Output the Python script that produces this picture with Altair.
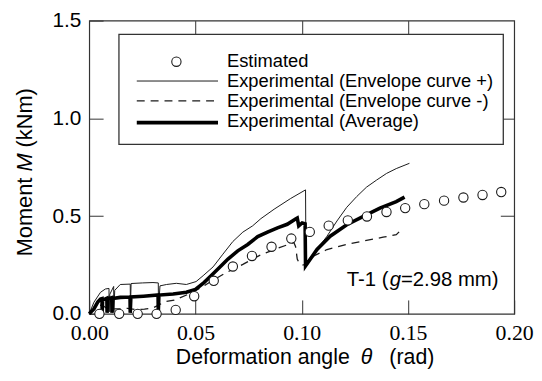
import altair as alt
import pandas as pd

# ---------------- data ----------------
theta_est = [0.0048, 0.0141, 0.0228, 0.0317, 0.0407, 0.0494, 0.0586, 0.0676, 0.0766, 0.0858, 0.0951,
             0.1038, 0.1127, 0.1217, 0.1307, 0.1399, 0.1487, 0.1577, 0.1670, 0.1761, 0.1851, 0.1939]
m_est = [0.0, 0.0, 0.0, 0.0, 0.02, 0.09, 0.169, 0.242, 0.296, 0.343, 0.385,
         0.419, 0.451, 0.478, 0.498, 0.521, 0.541, 0.561, 0.579, 0.595, 0.608, 0.623]

theta_pos = [0.0000, 0.0022, 0.0053, 0.0076, 0.0093, 0.0094, 0.0097, 0.0115, 0.0116, 0.0120, 0.0146,
             0.0193, 0.0194, 0.0197, 0.0250, 0.0300, 0.0325, 0.0326, 0.0333, 0.0364, 0.0410, 0.0457,
             0.0503, 0.0536, 0.0583, 0.0629, 0.0676, 0.0723, 0.0769, 0.0808, 0.0870, 0.0948, 0.1018,
             0.1020, 0.1072, 0.1119, 0.1166, 0.1212, 0.1259, 0.1305, 0.1352, 0.1399, 0.1445, 0.1507]
m_pos = [0.000, 0.059, 0.110, 0.127, 0.130, 0.010, 0.100, 0.140, 0.010, 0.120, 0.150,
         0.152, 0.035, 0.155, 0.158, 0.160, 0.158, 0.025, 0.143, 0.150, 0.156, 0.150,
         0.165, 0.195, 0.240, 0.305, 0.370, 0.418, 0.450, 0.487, 0.535, 0.590, 0.634,
         0.262, 0.329, 0.397, 0.475, 0.545, 0.600, 0.648, 0.684, 0.718, 0.743, 0.770]

theta_neg = [0.000, 0.002, 0.004, 0.006, 0.008, 0.010, 0.014, 0.018, 0.022, 0.026, 0.030, 0.0357,
             0.040, 0.0466, 0.0528, 0.0580, 0.0645, 0.0723, 0.0800, 0.0886, 0.0963, 0.0971, 0.0979,
             0.0990, 0.1005, 0.1020, 0.1057, 0.1119, 0.1212, 0.1290, 0.1383, 0.1445, 0.1461, 0.1470]
m_neg = [0.000, 0.020, 0.040, 0.045, 0.030, 0.025, 0.025, 0.028, 0.022, 0.024, 0.030, 0.062,
         0.070, 0.100, 0.135, 0.170, 0.211, 0.253, 0.298, 0.335, 0.365, 0.345, 0.280,
         0.255, 0.250, 0.250, 0.296, 0.329, 0.355, 0.372, 0.392, 0.405, 0.422, 0.430]

theta_avg = [0.0000, 0.0022, 0.0040, 0.0053, 0.0060, 0.0061, 0.0063, 0.0083, 0.0084, 0.0086, 0.0106,
             0.0107, 0.0110, 0.0146, 0.0192, 0.0193, 0.0196, 0.0255, 0.0324, 0.0325, 0.0328, 0.0395,
             0.0457, 0.0500, 0.0540, 0.0583, 0.0620, 0.0653, 0.0699, 0.0746, 0.0793, 0.0839, 0.0886,
             0.0932, 0.0971, 0.0979, 0.0986, 0.1002, 0.1016, 0.1018, 0.1072, 0.1134, 0.1212, 0.1290,
             0.1368, 0.1445, 0.1484]
m_avg = [0.000, 0.025, 0.060, 0.076, 0.078, 0.005, 0.070, 0.080, 0.005, 0.075, 0.082,
         0.005, 0.078, 0.084, 0.086, 0.005, 0.086, 0.090, 0.096, 0.005, 0.096, 0.101,
         0.110, 0.125, 0.160, 0.205, 0.245, 0.280, 0.322, 0.355, 0.395, 0.418, 0.440,
         0.458, 0.485, 0.490, 0.450, 0.465, 0.460, 0.245, 0.329, 0.397, 0.456, 0.498,
         0.541, 0.574, 0.597]

x_ticks = [0.0, 0.05, 0.10, 0.15, 0.20]
x_inner_ticks = [0.05, 0.10, 0.15]
y_ticks = [0.0, 0.5, 1.0, 1.5]
y_inner_ticks = [0.5, 1.0]
legend_labels = ["Estimated", "Experimental (Envelope curve +)",
                 "Experimental (Envelope curve -)", "Experimental (Average)"]


def frame(t, m):
    return pd.DataFrame({"theta": t, "M": m, "i": list(range(len(t)))})


df_est = frame(theta_est, m_est)
df_pos = frame(theta_pos, m_pos)
df_neg = frame(theta_neg, m_neg)
df_avg = frame(theta_avg, m_avg)
one = pd.DataFrame({"k": [0]})

INK = "#1a1a1a"
SANS = "Liberation Sans"
SERIF = "Liberation Serif, Times New Roman, serif"
XS = alt.Scale(domain=[0, 0.2], nice=False, zero=False)
YS = alt.Scale(domain=[0, 1.5], nice=False)
TICK = alt.ExprRef(expr="-14")

ax_bottom = alt.Axis(orient="bottom", values=x_ticks, format=".2f", title=None, domain=False,
                     grid=False, tickSize=TICK, tickColor="#333", tickWidth=1,
                     labelFont=SERIF, labelFontSize=22, labelColor="black",
                     labelPadding=23, labelFlush=False, labelOverlap=False)
ax_left = alt.Axis(orient="left", values=y_ticks, format=".1f", title=None, domain=False,
                   grid=False, tickSize=TICK, tickColor="#333", tickWidth=1,
                   labelFont=SANS, labelFontSize=21, labelColor="black",
                   labelPadding=22.5, labelFlush=False, labelOverlap=False)
ax_top = alt.Axis(orient="top", values=x_inner_ticks, labels=False, title=None, domain=False,
                  grid=False, tickSize=TICK, tickColor="#333", tickWidth=1)
ax_right = alt.Axis(orient="right", values=y_inner_ticks, labels=False, title=None, domain=False,
                    grid=False, tickSize=TICK, tickColor="#333", tickWidth=1)

thin = alt.Chart(df_pos).mark_line(color=INK, strokeWidth=1.0).encode(
    x=alt.X("theta:Q", scale=XS, axis=ax_bottom),
    y=alt.Y("M:Q", scale=YS, axis=ax_left),
    order=alt.Order("i:Q"),
)
dashed = alt.Chart(df_neg).mark_line(color=INK, strokeWidth=1.3, strokeDash=[8, 6]).encode(
    x=alt.X("theta:Q", scale=XS, axis=None),
    y=alt.Y("M:Q", scale=YS, axis=None),
    order=alt.Order("i:Q"),
)
thick = alt.Chart(df_avg).mark_line(color="black", strokeWidth=3.6).encode(
    x=alt.X("theta:Q", scale=XS, axis=None),
    y=alt.Y("M:Q", scale=YS, axis=None),
    order=alt.Order("i:Q"),
)
circles = alt.Chart(df_est).mark_point(shape="circle", filled=True, fill="white", stroke=INK,
                                       strokeWidth=1.1, size=88, opacity=1).encode(
    x=alt.X("theta:Q", scale=XS, axis=ax_top),
    y=alt.Y("M:Q", scale=YS, axis=ax_right),
)


def txt(s, x, y, size, align="left", style="normal", angle=0, font=SANS):
    return alt.Chart(one).mark_text(text=s, font=font, fontSize=size, fontStyle=style,
                                    align=align, baseline="alphabetic", angle=angle,
                                    color="black").encode(x=alt.value(x), y=alt.value(y))


# legend (manual)
legend_box = alt.Chart(one).mark_rect(fill="white", stroke="#333", strokeWidth=1.3).encode(
    x=alt.value(30), x2=alt.value(418), y=alt.value(14), y2=alt.value(125))
leg_circle = alt.Chart(one).mark_point(shape="circle", filled=True, fill="white", stroke=INK,
                                       strokeWidth=1.1, size=88, opacity=1).encode(
    x=alt.value(88), y=alt.value(41.5))
leg_thin = alt.Chart(one).mark_rule(color=INK, strokeWidth=1.0).encode(
    x=alt.value(48), x2=alt.value(130), y=alt.value(61))
leg_dash = alt.Chart(one).mark_rule(color=INK, strokeWidth=1.3, strokeDash=[8, 6]).encode(
    x=alt.value(48), x2=alt.value(130), y=alt.value(81))
leg_thick = alt.Chart(one).mark_rule(color="black", strokeWidth=3.6).encode(
    x=alt.value(48), x2=alt.value(130), y=alt.value(103))
leg_texts = [txt(s, 139, yy, 18.5) for s, yy in zip(legend_labels, [47, 67.3, 87.3, 107.3])]

# axis titles with italic symbols
xt = [txt("Deformation angle", 263, 347, 21.5, align="right"),
      txt("θ", 274, 347, 21.5, style="italic"),
      txt("(rad)", 303, 347, 21.5)]
yt = [txt("Moment", -58, 238, 22, angle=270),
      txt("M", -58, 152.4, 22, style="italic", angle=270),
      txt("(kNm)", -58, 128, 22, angle=270)]
ann = [txt("T-1 (", 260, 267.7, 20.5),
       txt("g", 303.3, 267.7, 20.5, style="italic"),
       txt("=2.98 mm)", 314.7, 267.7, 20.5)]

chart = alt.layer(
    thin, dashed, thick, circles, legend_box, leg_circle, leg_thin, leg_dash, leg_thick,
    *leg_texts, *xt, *yt, *ann
).resolve_axis(x="independent", y="independent").properties(
    width=429, height=296,
    autosize=alt.AutoSizeParams(type="none"),
    padding={"left": 82, "top": 11, "right": 20, "bottom": 56},
    background="white",
).configure_view(stroke="#333", strokeWidth=1.2)

chart.save("out.html", embed_options={"renderer": "svg", "actions": False})
